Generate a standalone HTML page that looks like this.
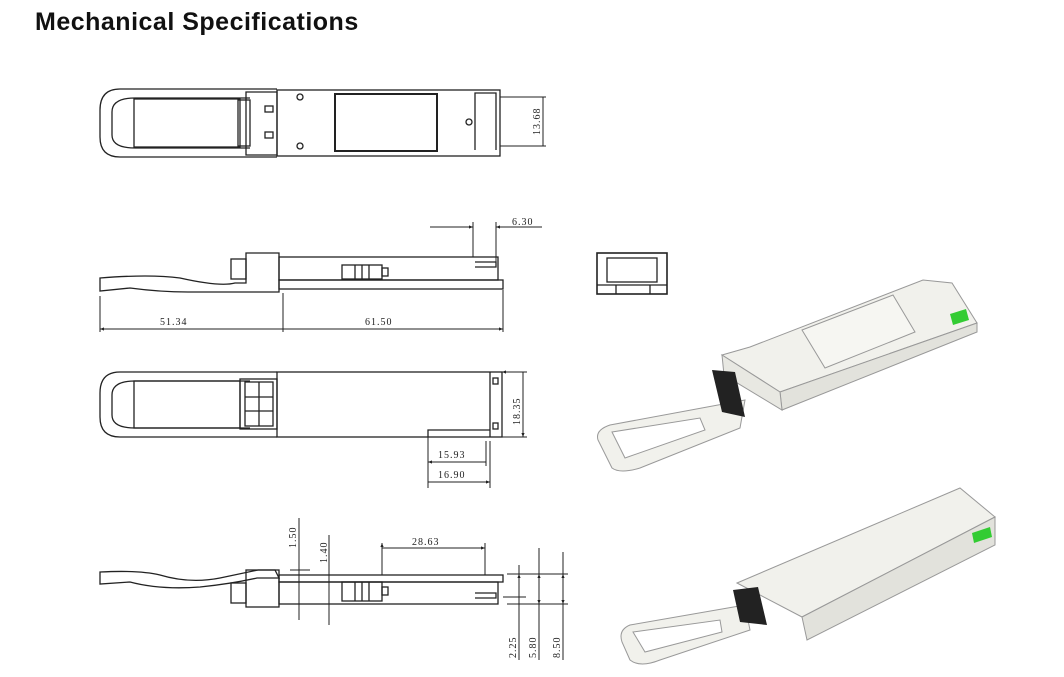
<!DOCTYPE html>
<html><head><meta charset="utf-8"><style>
html,body{margin:0;padding:0;background:#fff;width:1064px;height:677px;overflow:hidden}
h1{position:absolute;left:35px;top:8px;margin:0;font:bold 25px "Liberation Sans",sans-serif;color:#111;letter-spacing:0.5px}
svg{position:absolute;left:0;top:0}
.t{font:10px "Liberation Serif",serif;fill:#222;letter-spacing:1px}
</style></head><body>
<h1>Mechanical Specifications</h1>
<svg width="1064" height="677" viewBox="0 0 1064 677">
<defs><marker id="a" viewBox="0 0 10 10" refX="10" refY="5" markerWidth="6" markerHeight="4" orient="auto-start-reverse"><path d="M0,1L10,5L0,9z" fill="#222"/></marker></defs>
<g fill="none" stroke="#222" stroke-width="1.3">
<!-- top view 1 -->
<path d="M277,89 H120 Q100,89 100,110 V137 Q100,157 120,157 H277"/>
<path d="M250,98 H135 Q112,98 112,112 V135 Q112,148 135,148 H250"/>
<rect x="134" y="99" width="106" height="48"/>
<rect x="238" y="100" width="12" height="46"/>
<rect x="277" y="90" width="223" height="66"/>
<path d="M246,92 H277 V155 H246 Z"/>
<rect x="265" y="106" width="8" height="6"/><rect x="265" y="132" width="8" height="6"/>
<rect x="335" y="94" width="102" height="57" stroke-width="2"/>
<circle cx="300" cy="97" r="3"/><circle cx="300" cy="146" r="3"/><circle cx="469" cy="122" r="3"/>
<path d="M475,150 V93 H496 V150"/>
<path d="M500,97 H546 M500,146 H546 M543,97 V146" stroke-width="1"/>
<!-- side view 1 -->
<path d="M100,278 Q150,274 180,278 Q220,287 235,283 L246,283 L246,253 L279,253 L279,292 L188,292 Q160,292 130,288 L100,291 Z"/>
<rect x="231" y="259" width="15" height="20"/>
<rect x="279" y="257" width="219" height="23"/>
<rect x="279" y="280" width="224" height="9"/>
<rect x="342" y="265" width="40" height="14"/><path d="M355,265 V279 M362,265 V279 M369,265 V279"/>
<rect x="382" y="268" width="6" height="8"/>
<path d="M475,262 H496 V267 H475" />
<g stroke-width="1"><path d="M100,296 V332 M283,293 V332 M503,290 V332"/>
<path d="M100,329 H283 M283,329 H503" marker-start="url(#a)" marker-end="url(#a)"/>
<path d="M473,222 V257 M496,222 V262 M430,227 H473 M496,227 H542"/>
<path d="M462,227 H473" marker-end="url(#a)"/><path d="M507,227 H496" marker-end="url(#a)"/></g>
<!-- end view -->
<rect x="597" y="253" width="70" height="41" stroke-width="1.6"/>
<rect x="607" y="258" width="50" height="24"/>
<path d="M597,285 H667 M616,285 V294 M650,285 V294" />
<!-- top view 2 -->
<path d="M277,372 H120 Q100,372 100,393 V417 Q100,437 120,437 H277"/>
<path d="M250,381 H135 Q112,381 112,395 V415 Q112,428 135,428 H250"/>
<rect x="134" y="381" width="106" height="47"/>
<rect x="240" y="379" width="37" height="50"/>
<rect x="245" y="382" width="28" height="44"/><path d="M245,397 H273 M245,411 H273 M259,382 V426"/>
<rect x="277" y="372" width="225" height="65"/>
<path d="M428,437 V430 H490 V375 M490,372 V437"/>
<rect x="493" y="378" width="5" height="6"/><rect x="493" y="423" width="5" height="6"/>
<g stroke-width="1"><path d="M502,372 H527 M502,437 H527 M523,372 V437" marker-start="url(#a)" marker-end="url(#a)"/>
<path d="M428,437 V488 M486,441 V466 M490,441 V488"/>
<path d="M428,462 H486 M428,482 H490" marker-start="url(#a)" marker-end="url(#a)"/></g>
<!-- side view 2 -->
<path d="M100,572 Q140,570 160,575 Q190,584 220,578 L258,570 L275,570 L279,578 L257,578 Q230,584 200,587 Q160,590 130,582 L100,584 Z"/>
<rect x="246" y="570" width="33" height="37"/>
<rect x="231" y="583" width="15" height="20"/>
<rect x="279" y="575" width="224" height="7"/>
<rect x="279" y="582" width="219" height="22"/>
<rect x="342" y="582" width="40" height="19"/><path d="M355,582 V601 M362,582 V601 M369,582 V601"/>
<rect x="382" y="587" width="6" height="8"/>
<path d="M475,593 H496 V598 H475"/>
<g stroke-width="1"><path d="M299,518 V620 M329,535 V625 M290,570 H310 M320,575 H340"/>
<path d="M382,543 V575 M485,543 V575 M382,548 H485" marker-start="url(#a)" marker-end="url(#a)"/>
<path d="M507,574 H568 M507,604 H568 M503,597 H526 M519,565 V660 M539,548 V660 M563,552 V660"/>
<path d="M519,574 V595" marker-start="url(#a)"/><path d="M539,574 V604" marker-start="url(#a)" marker-end="url(#a)"/><path d="M563,574 V604" marker-start="url(#a)" marker-end="url(#a)"/></g>
</g>
<text class="t" x="160" y="325">51.34</text><text class="t" x="365" y="325">61.50</text>
<text class="t" x="512" y="225">6.30</text>
<text class="t" x="438" y="458">15.93</text><text class="t" x="438" y="478">16.90</text>
<text class="t" x="412" y="545">28.63</text>
<text class="t" transform="translate(540,135) rotate(-90)">13.68</text>
<text class="t" transform="translate(520,425) rotate(-90)">18.35</text>
<text class="t" transform="translate(296,548) rotate(-90)">1.50</text>
<text class="t" transform="translate(327,563) rotate(-90)">1.40</text>
<text class="t" transform="translate(516,658) rotate(-90)">2.25</text>
<text class="t" transform="translate(536,658) rotate(-90)">5.80</text>
<text class="t" transform="translate(560,658) rotate(-90)">8.50</text>
<!-- iso 1 -->
<g stroke="#999" stroke-width="1" fill="#f1f1ec">
<path d="M745,400 L610,425 Q595,430 598,440 L612,468 Q620,474 640,468 L740,428 Z"/>
<path d="M612,432 L700,418 L705,430 L625,458 Z" fill="#fff"/>
<path d="M722,355 L750,347 L923,280 L952,283 L977,323 L780,392 Z"/>
<path d="M780,392 L977,323 L977,332 L782,410 Z" fill="#e2e2dc"/>
<path d="M722,355 L780,392 L782,410 L724,375 Z" fill="#e8e8e2"/>
<path d="M802,330 L893,295 L915,332 L825,368 Z" fill="#f6f6f2"/>
</g>
<path d="M712,370 L735,372 L745,417 L722,412 Z" fill="#222"/>
<path d="M950,314 L966,309 L969,320 L953,325 Z" fill="#3c3"/>
<!-- iso 2 -->
<g stroke="#999" stroke-width="1" fill="#f1f1ec">
<path d="M745,605 L630,625 Q618,630 622,642 L630,660 Q640,668 660,660 L750,630 Z"/>
<path d="M633,632 L720,620 L722,632 L645,652 Z" fill="#fff"/>
<path d="M737,583 L960,488 L995,517 L802,617 Z"/>
<path d="M802,617 L995,517 L995,545 L807,640 Z" fill="#e2e2dc"/>
</g>
<path d="M733,590 L758,587 L767,625 L740,622 Z" fill="#222"/>
<path d="M972,533 L990,527 L992,537 L974,543 Z" fill="#3c3"/>
</svg>
</body></html>
